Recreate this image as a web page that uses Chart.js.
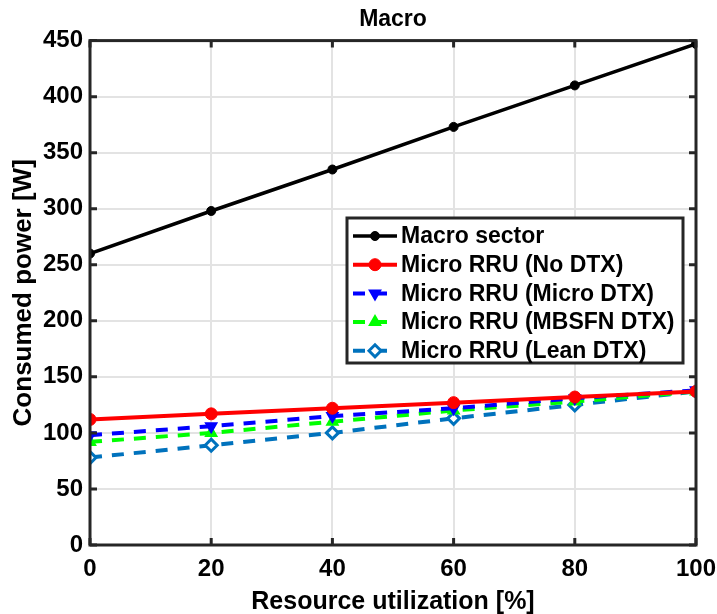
<!DOCTYPE html>
<html>
<head>
<meta charset="utf-8">
<script src="https://cdn.jsdelivr.net/npm/chart.js@4.4.0/dist/chart.umd.min.js"></script>
<style>
  html, body { margin: 0; padding: 0; background: #fff; }
</style>
</head>
<body>
<canvas id="canvas" width="717" height="614"></canvas>
<script>
// data
const utilization = [0, 20, 40, 60, 80, 100];
const macroSector = [260, 298, 335, 373, 410, 447];
const microNoDtx = [112, 117, 122, 127, 132, 137];
const microMicroDtx = [98, 106, 115, 122, 131, 138];
const microMbsfnDtx = [92, 100, 110, 120, 128, 137];
const microLeanDtx = [78, 89, 100, 113, 125, 137];
const xTicks = [0, 20, 40, 60, 80, 100];
const yTicks = [0, 50, 100, 150, 200, 250, 300, 350, 400, 450];

const fontFam = "'Liberation Sans', Arial, sans-serif";

function pts(vals) {
  return vals.map((v, i) => ({ x: utilization[i], y: v }));
}

// box around plot + inward ticks, MATLAB style
const boxPlugin = {
  id: 'boxPlugin',
  afterDraw(chart) {
    const ctx = chart.ctx;
    const a = chart.chartArea;
    const xs = chart.scales.x, ys = chart.scales.y;
    ctx.save();
    ctx.strokeStyle = '#262626';
    ctx.lineWidth = 3;
    xTicks.forEach(t => {
      const px = xs.getPixelForValue(t);
      ctx.beginPath();
      ctx.moveTo(px, a.bottom); ctx.lineTo(px, a.bottom - 7);
      ctx.moveTo(px, a.top); ctx.lineTo(px, a.top + 7);
      ctx.stroke();
    });
    yTicks.forEach(t => {
      const py = ys.getPixelForValue(t);
      ctx.beginPath();
      ctx.moveTo(a.left, py); ctx.lineTo(a.left + 7, py);
      ctx.moveTo(a.right, py); ctx.lineTo(a.right - 7, py);
      ctx.stroke();
    });
    ctx.strokeRect(a.left, a.top, a.right - a.left, a.bottom - a.top);
    ctx.restore();
  }
};

// legend drawn inside the plot
const innerLegend = {
  id: 'innerLegend',
  afterDraw(chart) {
    const ctx = chart.ctx;
    const bx = 347, by = 218, bw = 336, bh = 145;
    ctx.save();
    ctx.fillStyle = '#fff';
    ctx.fillRect(bx, by, bw, bh);
    ctx.strokeStyle = '#262626';
    ctx.lineWidth = 3;
    ctx.strokeRect(bx, by, bw, bh);
    chart.data.datasets.forEach((ds, i) => {
      const y = by + 18 + i * 28.7;
      ctx.strokeStyle = ds.borderColor;
      ctx.lineWidth = ds.borderWidth;
      ctx.setLineDash(ds.borderDash || []);
      ctx.beginPath();
      ctx.moveTo(353, y); ctx.lineTo(397, y);
      ctx.stroke();
      ctx.setLineDash([]);
      ctx.fillStyle = ds.pointBackgroundColor;
      ctx.lineWidth = ds.pointBorderWidth;
      Chart.helpers.drawPoint(ctx, {
        pointStyle: ds.pointStyle,
        rotation: ds.pointRotation || 0,
        radius: ds.pointRadius,
        borderWidth: ds.pointBorderWidth
      }, 375, y);
      ctx.fillStyle = '#000';
      ctx.font = 'bold 23px ' + fontFam;
      ctx.textBaseline = 'middle';
      ctx.textAlign = 'left';
      ctx.fillText(ds.label, 401, y + 1);
    });
    ctx.restore();
  }
};

const data = {
  datasets: [{
    label: 'Macro sector',
    data: pts(macroSector),
    borderColor: '#000000',
    backgroundColor: '#000000',
    pointBackgroundColor: '#000000',
    pointBorderColor: '#000000',
    borderWidth: 3.5,
    pointStyle: 'circle',
    pointRadius: 4.5,
    pointBorderWidth: 1
  }, {
    label: 'Micro RRU (No DTX)',
    data: pts(microNoDtx),
    borderColor: '#ff0000',
    backgroundColor: '#ff0000',
    pointBackgroundColor: '#ff0000',
    pointBorderColor: '#ff0000',
    borderWidth: 4,
    pointStyle: 'circle',
    pointRadius: 6,
    pointBorderWidth: 1
  }, {
    label: 'Micro RRU (Micro DTX)',
    data: pts(microMicroDtx),
    borderColor: '#0000ff',
    backgroundColor: '#0000ff',
    pointBackgroundColor: '#0000ff',
    pointBorderColor: '#0000ff',
    borderWidth: 4,
    borderDash: [12, 10],
    pointStyle: 'triangle',
    pointRotation: 180,
    pointRadius: 6,
    pointBorderWidth: 2
  }, {
    label: 'Micro RRU (MBSFN DTX)',
    data: pts(microMbsfnDtx),
    borderColor: '#00ff00',
    backgroundColor: '#00ff00',
    pointBackgroundColor: '#00ff00',
    pointBorderColor: '#00ff00',
    borderWidth: 4,
    borderDash: [12, 10],
    pointStyle: 'triangle',
    pointRadius: 6,
    pointBorderWidth: 2
  }, {
    label: 'Micro RRU (Lean DTX)',
    data: pts(microLeanDtx),
    borderColor: '#0072bd',
    backgroundColor: '#0072bd',
    pointBackgroundColor: '#ffffff',
    pointBorderColor: '#0072bd',
    borderWidth: 4,
    borderDash: [12, 10],
    pointStyle: 'rectRot',
    pointRadius: 6,
    pointBorderWidth: 3
  }]
};

const config = {
  type: 'line',
  data: data,
  options: {
    responsive: false,
    animation: false,
    layout: { padding: { left: 8, right: 21, top: 0, bottom: 0 } },
    plugins: {
      legend: { display: false },
      tooltip: { enabled: false },
      title: {
        display: true,
        text: 'Macro',
        fullSize: false,
        color: '#000',
        font: { family: fontFam, size: 23, weight: 'bold' },
        padding: { top: 6, bottom: 7 }
      }
    },
    scales: {
      x: {
        type: 'linear',
        min: 0, max: 100,
        afterBuildTicks: s => { s.ticks = xTicks.map(v => ({ value: v })); },
        afterFit: s => { s.height = 69; s.paddingRight = 0; s.paddingLeft = 0; },
        grid: { color: '#e3e3e3', lineWidth: 2, drawTicks: false },
        border: { display: false },
        ticks: {
          color: '#000', padding: 10,
          font: { family: fontFam, size: 24, weight: 'bold' }
        },
        title: {
          display: true, text: 'Resource utilization [%]', color: '#000',
          font: { family: fontFam, size: 25, weight: 'bold' },
          padding: { top: 4, bottom: -3 }
        }
      },
      y: {
        type: 'linear',
        min: 0, max: 450,
        afterBuildTicks: s => { s.ticks = yTicks.map(v => ({ value: v })); },
        afterFit: s => { s.width = 82; },
        grid: { color: '#e3e3e3', lineWidth: 2, drawTicks: false },
        border: { display: false },
        ticks: {
          color: '#000', padding: 7,
          font: { family: fontFam, size: 24, weight: 'bold' }
        },
        title: {
          display: true, text: 'Consumed power [W]', color: '#000',
          font: { family: fontFam, size: 26, weight: 'bold' },
          padding: { top: 0, bottom: 0 }
        }
      }
    }
  },
  plugins: [boxPlugin, innerLegend]
};

window.onload = function() {
  new Chart(document.getElementById('canvas'), config);
};
</script>
</body>
</html>
